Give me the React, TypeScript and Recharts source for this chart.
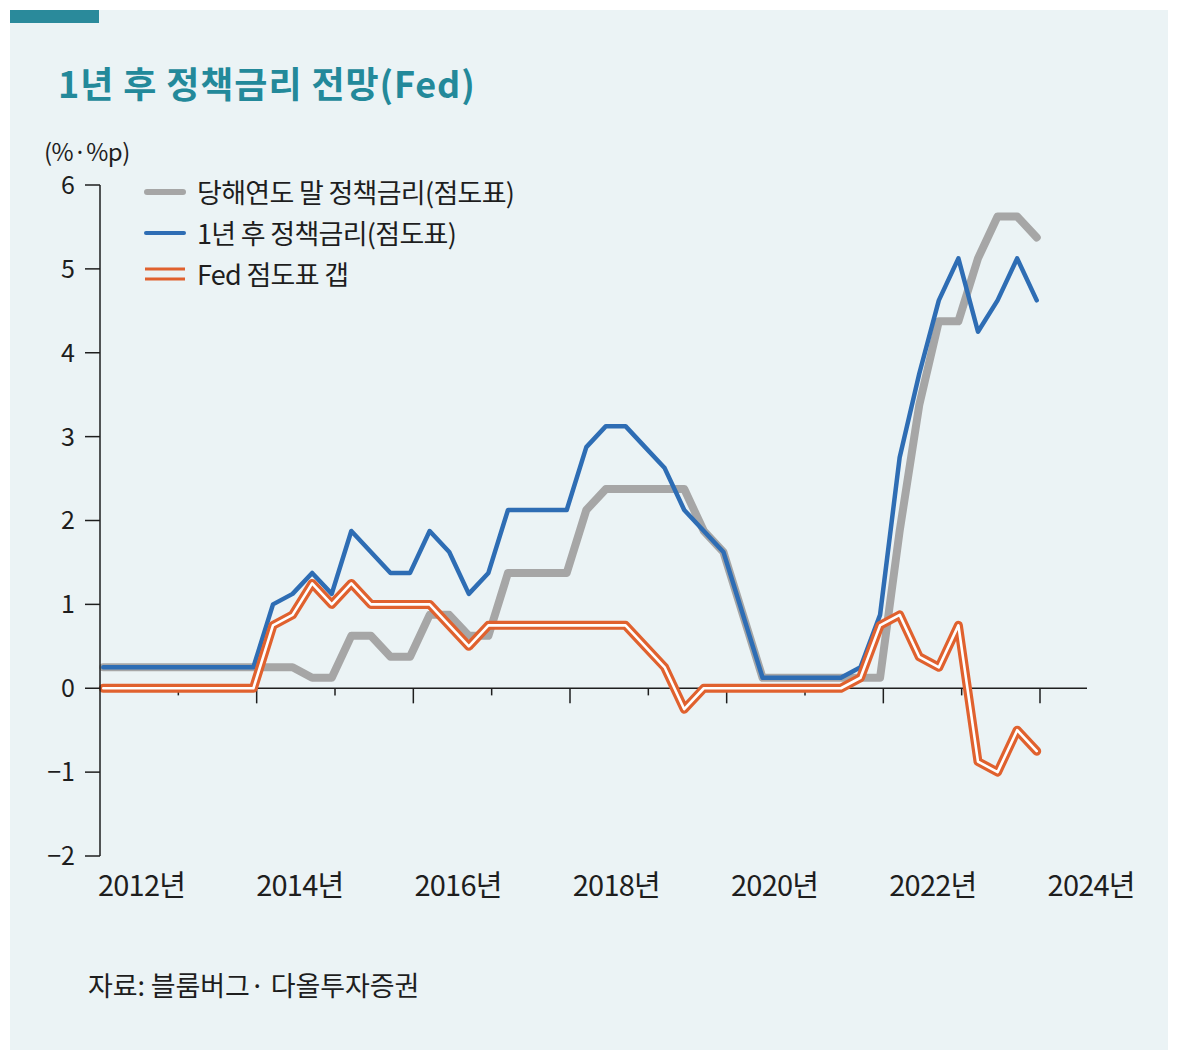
import React from 'react';
import { LineChart, Line, XAxis, YAxis, ReferenceLine } from 'recharts';

// FOMC SEP meetings (year-month)
const meetings = [
  '2012-01', '2012-04', '2012-06', '2012-09', '2012-12',
  '2013-03', '2013-06', '2013-09', '2013-12',
  '2014-03', '2014-06', '2014-09', '2014-12',
  '2015-03', '2015-06', '2015-09', '2015-12',
  '2016-03', '2016-06', '2016-09', '2016-12',
  '2017-03', '2017-06', '2017-09', '2017-12',
  '2018-03', '2018-06', '2018-09', '2018-12',
  '2019-03', '2019-06', '2019-09', '2019-12',
  '2020-06', '2020-09', '2020-12',
  '2021-03', '2021-06', '2021-09', '2021-12',
  '2022-03', '2022-06', '2022-09', '2022-12',
  '2023-03', '2023-06', '2023-09', '2023-12',
];

// 당해연도 말 정책금리(점도표)
const yearEndRate = [
  0.25, 0.25, 0.25, 0.25, 0.25,
  0.25, 0.25, 0.25, 0.25,
  0.25, 0.25, 0.125, 0.125,
  0.625, 0.625, 0.375, 0.375,
  0.875, 0.875, 0.625, 0.625,
  1.375, 1.375, 1.375, 1.375,
  2.125, 2.375, 2.375, 2.375,
  2.375, 2.375, 1.875, 1.625,
  0.125, 0.125, 0.125,
  0.125, 0.125, 0.125, 0.125,
  1.875, 3.375, 4.375, 4.375,
  5.125, 5.625, 5.625, 5.375,
];

// 1년 후 정책금리(점도표)
const nextYearRate = [
  0.25, 0.25, 0.25, 0.25, 0.25,
  0.25, 0.25, 0.25, 0.25,
  1.0, 1.125, 1.375, 1.125,
  1.875, 1.625, 1.375, 1.375,
  1.875, 1.625, 1.125, 1.375,
  2.125, 2.125, 2.125, 2.125,
  2.875, 3.125, 3.125, 2.875,
  2.625, 2.125, 1.875, 1.625,
  0.125, 0.125, 0.125,
  0.125, 0.125, 0.25, 0.875,
  2.75, 3.75, 4.625, 5.125,
  4.25, 4.625, 5.125, 4.625,
];

// Fed 점도표 갭
const dotGap = [
  0, 0, 0, 0, 0,
  0, 0, 0, 0,
  0.75, 0.875, 1.25, 1.0,
  1.25, 1.0, 1.0, 1.0,
  1.0, 0.75, 0.5, 0.75,
  0.75, 0.75, 0.75, 0.75,
  0.75, 0.75, 0.75, 0.5,
  0.25, -0.25, 0, 0,
  0, 0, 0,
  0, 0, 0.125, 0.75,
  0.875, 0.375, 0.25, 0.75,
  -0.875, -1.0, -0.5, -0.75,
];

const yTicks = [-2, -1, 0, 1, 2, 3, 4, 5, 6];
const yearTicks = [2012, 2013, 2014, 2015, 2016, 2017, 2018, 2019, 2020, 2021, 2022, 2023, 2024];

const GREY = '#a6a6a6';
const BLUE = '#2e6db4';
const ORANGE = '#e0612e';
const TEAL = '#23899a';
const INK = '#1e1e1e';
const FONT = '"Noto Sans CJK KR", "Noto Sans", sans-serif';

const data = meetings.map((m, i) => {
  const [yr, mo] = m.split('-').map(Number);
  return {
    t: yr + (mo - 0.5) / 12,
    yearEnd: yearEndRate[i],
    nextYear: nextYearRate[i],
    gap: dotGap[i],
  };
});

const legendItems = [
  { name: '당해연도 말 정책금리(점도표)', kind: 'grey' },
  { name: '1년 후 정책금리(점도표)', kind: 'blue' },
  { name: 'Fed 점도표 갭', kind: 'gap' },
];

const YearTick = (props: any) => {
  const { x, y, payload } = props;
  if (payload.value % 2 !== 0) return <g />;
  // labels sit a little further right as the years go on
  const shift = (payload.value - 2012) * 0.8;
  return (
    <text x={x - 2 + shift} y={y + 40} textAnchor="start" fontSize={29} letterSpacing={-0.8} fontFamily={FONT} fill={INK}>
      {payload.value}년
    </text>
  );
};

const LegendSwatch = ({ kind }: { kind: string }) => (
  <svg width={44} height={20} style={{ display: 'block' }}>
    {kind === 'grey' && <line x1={4} y1={10} x2={40} y2={10} stroke={GREY} strokeWidth={6} strokeLinecap="round" />}
    {kind === 'blue' && <line x1={3} y1={10} x2={41} y2={10} stroke={BLUE} strokeWidth={4} strokeLinecap="round" />}
    {kind === 'gap' && (
      <>
        <line x1={2} y1={5} x2={42} y2={5} stroke={ORANGE} strokeWidth={3} />
        <line x1={2} y1={15} x2={42} y2={15} stroke={ORANGE} strokeWidth={3} />
      </>
    )}
  </svg>
);

export default function App() {
  return (
    <div style={{ position: 'absolute', left: 0, top: 0, width: 1180, height: 1062, background: '#fff', fontFamily: FONT }}>
      <div style={{ position: 'absolute', left: 10, top: 10, width: 1158, height: 1040, background: '#ebf3f5' }} />
      <div style={{ position: 'absolute', left: 10, top: 10, width: 89, height: 13, background: '#2a8a9b' }} />
      <div style={{ position: 'absolute', left: 58, top: 58, fontSize: 36, fontWeight: 700, color: TEAL, letterSpacing: 0.9, lineHeight: '48px', whiteSpace: 'nowrap' }}>
        1년 후 정책금리 전망(Fed)
      </div>
      <div style={{ position: 'absolute', left: 44, top: 134, fontSize: 24, color: INK, letterSpacing: -0.5, lineHeight: '34px' }}>
        (%·%p)
      </div>

      <div style={{ position: 'absolute', left: 0, top: 0 }}>
        <LineChart width={1180} height={1062} data={data} margin={{ top: 185, right: 93, bottom: 146, left: 0 }}>
          <XAxis
            dataKey="t"
            type="number"
            domain={[2012, 2024.6]}
            ticks={yearTicks}
            interval={0}
            axisLine={false}
            tickLine={false}
            tickSize={0}
            tickMargin={0}
            height={60}
            tick={<YearTick />}
          />
          <YAxis
            type="number"
            domain={[-2, 6]}
            ticks={yTicks}
            interval={0}
            width={100}
            tickSize={15}
            tickMargin={10}
            axisLine={{ stroke: INK, strokeWidth: 1.5 }}
            tickLine={{ stroke: INK, strokeWidth: 1.5 }}
            tick={{ fill: INK, fontSize: 25, fontFamily: FONT }}
            tickFormatter={(v: number) => (v < 0 ? `\u2212${-v}` : `${v}`)}
          />
          <ReferenceLine y={0} stroke={INK} strokeWidth={1.5} />
          {yearTicks.slice(1).map((yr) => (
            <ReferenceLine
              key={yr}
              segment={[{ x: yr, y: 0 }, { x: yr, y: yr % 2 === 0 ? -0.18 : -0.085 }]}
              stroke={INK}
              strokeWidth={1.5}
            />
          ))}
          <Line type="linear" dataKey="yearEnd" stroke={GREY} strokeWidth={8} strokeLinejoin="round" strokeLinecap="round" dot={false} activeDot={false} isAnimationActive={false} />
          <Line type="linear" dataKey="nextYear" stroke={BLUE} strokeWidth={4.5} strokeLinejoin="round" strokeLinecap="round" dot={false} activeDot={false} isAnimationActive={false} />
          <Line type="linear" dataKey="gap" stroke={ORANGE} strokeWidth={9} strokeLinejoin="round" strokeLinecap="round" dot={false} activeDot={false} isAnimationActive={false} />
          <Line type="linear" dataKey="gap" stroke="#ffffff" strokeWidth={2.6} strokeLinejoin="round" strokeLinecap="round" dot={false} activeDot={false} isAnimationActive={false} />
        </LineChart>
      </div>

      {legendItems.map((item, i) => (
        <div
          key={item.name}
          style={{ position: 'absolute', left: 143, top: 172 + i * 41, height: 40, display: 'flex', alignItems: 'center', whiteSpace: 'nowrap' }}
        >
          <LegendSwatch kind={item.kind} />
          <span style={{ marginLeft: 10, fontSize: 27, letterSpacing: -0.7, color: INK, lineHeight: '40px' }}>{item.name}</span>
        </div>
      ))}

      <div style={{ position: 'absolute', left: 88, top: 966, fontSize: 27, letterSpacing: -0.1, color: INK, lineHeight: '38px', whiteSpace: 'nowrap' }}>
        자료: 블룸버그· 다올투자증권
      </div>
    </div>
  );
}
